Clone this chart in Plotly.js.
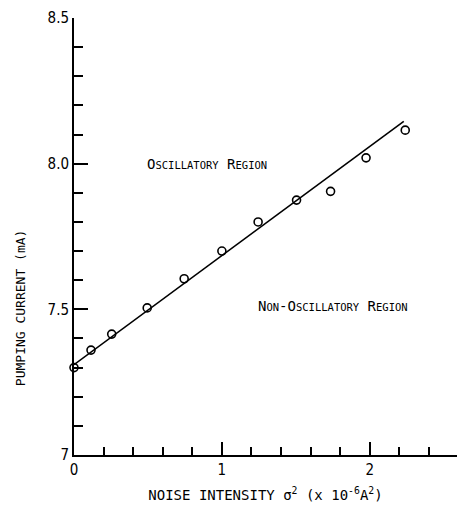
<!DOCTYPE html>
<html>
<head>
<meta charset="utf-8">
<script src="https://cdn.plot.ly/plotly-3.0.1.min.js"></script>
<style>
  html, body { margin: 0; padding: 0; background: #fff; }
  #chart { width: 457px; height: 510px; }
</style>
</head>
<body>
<div id="chart"></div>
<script>
// Measured pumping current versus noise intensity
const noiseIntensity = [0, 0.115, 0.255, 0.495, 0.745, 1.0, 1.245, 1.505, 1.735, 1.975, 2.24];
const pumpingCurrent = [7.30, 7.36, 7.415, 7.505, 7.605, 7.70, 7.80, 7.875, 7.905, 8.02, 8.115];

// Straight-line boundary between the two regions
const boundaryX = [0, 2.23];
const boundaryY = [7.31, 8.145];

// Tick positions and labels
const yTickVals = [7, 7.5, 8.0, 8.5];
const yTickText = ['7', '7.5', '8.0', '8.5'];
const xTickVals = [0, 1, 2];
const xTickText = ['0', '1', '2'];

const FONT = 'DejaVu Sans Condensed, Liberation Sans Narrow, DejaVu Sans, sans-serif';
const MONO = 'DejaVu Sans Mono, Liberation Mono, monospace';

// Typewriter-style small capitals: full-size initial, smaller remaining letters
function smallCaps(words) {
  return words.split(' ').map(w =>
    w.split('-').map(p =>
      p.charAt(0).toUpperCase() +
      '<span style="font-size:10.5px">' + p.slice(1).toUpperCase() + '</span>'
    ).join('-')
  ).join(' ');
}

const traces = [
  {
    x: boundaryX, y: boundaryY,
    mode: 'lines', type: 'scatter',
    line: { color: '#000', width: 1.6 },
    hoverinfo: 'skip', showlegend: false
  },
  {
    x: noiseIntensity, y: pumpingCurrent,
    mode: 'markers', type: 'scatter',
    marker: { symbol: 'circle-open', size: 8, color: '#000', line: { width: 1.6, color: '#000' } },
    showlegend: false, cliponaxis: false
  }
];

const layout = {
  width: 457, height: 510,
  margin: { l: 74, r: 0, t: 18, b: 55 },
  paper_bgcolor: '#fff', plot_bgcolor: '#fff',
  font: { family: FONT, color: '#000', size: 14 },
  xaxis: {
    range: [0, 2.59],
    showgrid: false, zeroline: false,
    showline: true, linecolor: '#000', linewidth: 2,
    ticks: 'inside', ticklen: 13, tickwidth: 2, tickcolor: '#000',
    tickvals: xTickVals, ticktext: xTickText,
    tickfont: { family: FONT, size: 15 },
    minor: { dtick: 0.2, tick0: 0, ticks: 'inside', ticklen: 8, tickwidth: 2, tickcolor: '#000', showgrid: false },
    title: {
      text: 'NOISE INTENSITY σ<sup>2</sup> (x 10<sup>-6</sup>A<sup>2</sup>)',
      font: { family: MONO, size: 14 },
      standoff: 12
    }
  },
  yaxis: {
    range: [7, 8.5],
    showgrid: false, zeroline: false,
    showline: true, linecolor: '#000', linewidth: 2,
    ticks: 'inside', ticklen: 14, tickwidth: 2, tickcolor: '#000',
    tickvals: yTickVals, ticktext: yTickText,
    tickfont: { family: FONT, size: 15 },
    minor: { dtick: 0.1, tick0: 7, ticks: 'inside', ticklen: 9, tickwidth: 2, tickcolor: '#000', showgrid: false }
  },
  annotations: [
    {
      // vertical axis title, set low beside the axis
      x: 0, y: 0.336, xref: 'paper', yref: 'paper', xshift: -54,
      xanchor: 'center', yanchor: 'middle', textangle: -90,
      text: 'PUMPING CURRENT (mA)', showarrow: false,
      font: { family: MONO, size: 13 }
    },
    {
      x: 0.9, y: 8.0, xref: 'x', yref: 'y',
      text: smallCaps('Oscillatory Region'), showarrow: false,
      font: { family: MONO, size: 14 }
    },
    {
      x: 1.75, y: 7.51, xref: 'x', yref: 'y',
      text: smallCaps('Non-Oscillatory Region'), showarrow: false,
      font: { family: MONO, size: 14 }
    }
  ]
};

Plotly.newPlot('chart', traces, layout, { displayModeBar: false, staticPlot: true });
</script>
</body>
</html>
